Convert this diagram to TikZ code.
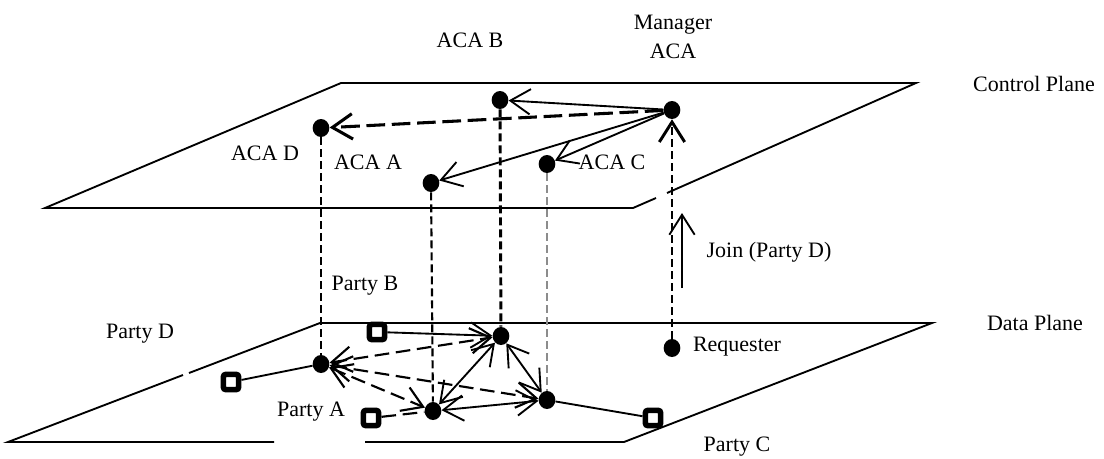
\documentclass[tikz,border=0pt]{standalone}
\usepackage{fontspec}
\setmainfont{Liberation Serif}
\usetikzlibrary{arrows.meta,shapes.geometric}

\begin{document}
\begin{tikzpicture}[x=0.75pt,y=0.75pt,yscale=-1,xscale=1,
	>={Straight Barb[length=15pt,width=19pt]},
	plane/.style={line width=1.4pt,line join=miter},
	wire/.style={line width=1.4pt},
	dwire/.style={line width=1.6pt,dash pattern={on 11pt off 5pt}},
	mdwire/.style={line width=2.3pt,dash pattern={on 14pt off 5pt}},
	vline/.style={line width=1.6pt,dash pattern={on 6pt off 3pt}},
	vthick/.style={line width=2.2pt,dash pattern={on 6pt off 3pt}},
	vthin/.style={line width=0.8pt,draw=black!45,dash pattern={on 6pt off 3pt}},
	dot/.style={ellipse,fill=black,inner sep=0pt,minimum width=12.5pt,minimum height=13.5pt},
	port/.style={draw=black,line width=4.2pt,fill=white,rounded corners=2pt,inner sep=0pt,minimum size=11.5pt},
	lbl/.style={inner sep=0pt,align=center,font=\fontsize{16.5}{22}\selectfont}]
	\useasboundingbox (0,0) rectangle (1104,458);

	%Shape: Control Plane
	\coordinate (cpTL) at (341,83);
	\coordinate (cpTR) at (916,83);
	\coordinate (cpR1) at (667,193);
	\coordinate (cpR2) at (656,198);
	\coordinate (cpBR) at (633,208);
	\coordinate (cpBL) at (45,208);
	\draw[plane] (cpR1) -- (cpTR) -- (cpTL) -- (cpBL) -- (cpBR) -- (cpR2);

	%Shape: Data Plane
	\coordinate (dpTL) at (320,323);
	\coordinate (dpTR) at (932,323);
	\coordinate (dpBR) at (624,442);
	\coordinate (dpB1) at (365,442);
	\coordinate (dpB2) at (274,442);
	\coordinate (dpBL) at (8,442);
	\coordinate (dpL1) at (183,375);
	\coordinate (dpL2) at (189,373);
	\draw[plane] (dpL2) -- (dpTL) -- (dpTR) -- (dpBR) -- (dpB1);
	\draw[plane] (dpB2) -- (dpBL) -- (dpL1);

	%ACA nodes (control plane)
	\node[dot] (acaD) at (321,128) {};
	\node[dot] (acaB) at (500,100) {};
	\node[dot] (mgr) at (672,110) {};
	\node[dot] (acaA) at (431,183) {};
	\node[dot] (acaC) at (547,164) {};

	%Party nodes (data plane)
	\node[dot] (ptyD) at (321,364) {};
	\node[dot] (ptyB) at (501,336) {};
	\node[dot] (ptyA) at (433,411) {};
	\node[dot] (ptyC) at (547,400) {};
	\node[dot] (req) at (672,348) {};
	\node[port] (sqB) at (377,332) {};
	\node[port] (sqD) at (231,382) {};
	\node[port] (sqA) at (371,418) {};
	\node[port] (sqC) at (653,418) {};

	%Straight Lines: plane to plane
	\draw[vline] (acaD) -- (ptyD);
	\draw[vline] (acaA) -- (ptyA);
	\draw[vthick] (acaB) -- (ptyB);
	\draw[vthin] (acaC) -- (ptyC);
	\draw[vthick,->] (req) -- (mgr);

	%Straight Lines: control plane
	\draw[wire,->] (mgr) -- (acaB);
	\draw[mdwire,->] (mgr) -- (acaD);
	\draw[wire,->] (mgr) -- (acaA);
	\draw[wire,->] (mgr) -- (acaC);

	%Straight Lines: data plane
	\draw[wire,->] (sqB) -- (ptyB);
	\draw[wire] (sqD) -- (ptyD);
	\draw[dwire] (sqA) -- (ptyA);
	\draw[wire] (ptyC) -- (sqC);
	\draw[wire,<->] (ptyA) -- (ptyB);
	\draw[wire,<->] (ptyB) -- (ptyC);
	\draw[wire,<->] (ptyA) -- (ptyC);
	\draw[dwire,<->] (ptyD) -- (ptyB);
	\draw[dwire,<->] (ptyD) -- (ptyC);
	\draw[dwire,<->] (ptyD) -- (ptyA);

	%Join arrow
	\coordinate (joinS) at (682,288);
	\coordinate (joinE) at (682,213);
	\draw[wire,->] (joinS) -- (joinE);

	%Labels
	\node[lbl] (mgrlbl) at (673,37) {Manager\\ACA};
	\node[lbl] (acaBlbl) at (470,40) {ACA B};
	\node[lbl] (cplbl) at (1034,84) {Control Plane};
	\node[lbl] (acaDlbl) at (265,153) {ACA D};
	\node[lbl] (acaAlbl) at (368,162) {ACA A};
	\node[lbl] (acaClbl) at (612,162) {ACA C};
	\node[lbl] (joinlbl) at (769,252) {Join (Party D)};
	\node[lbl] (pBlbl) at (365,286) {Party B};
	\node[lbl] (pDlbl) at (140,334) {Party D};
	\node[lbl] (dplbl) at (1035,323) {Data Plane};
	\node[lbl] (reqlbl) at (737,347) {Requester};
	\node[lbl] (pAlbl) at (311,412) {Party A};
	\node[lbl] (pClbl) at (737,447) {Party C};
\end{tikzpicture}
\end{document}
